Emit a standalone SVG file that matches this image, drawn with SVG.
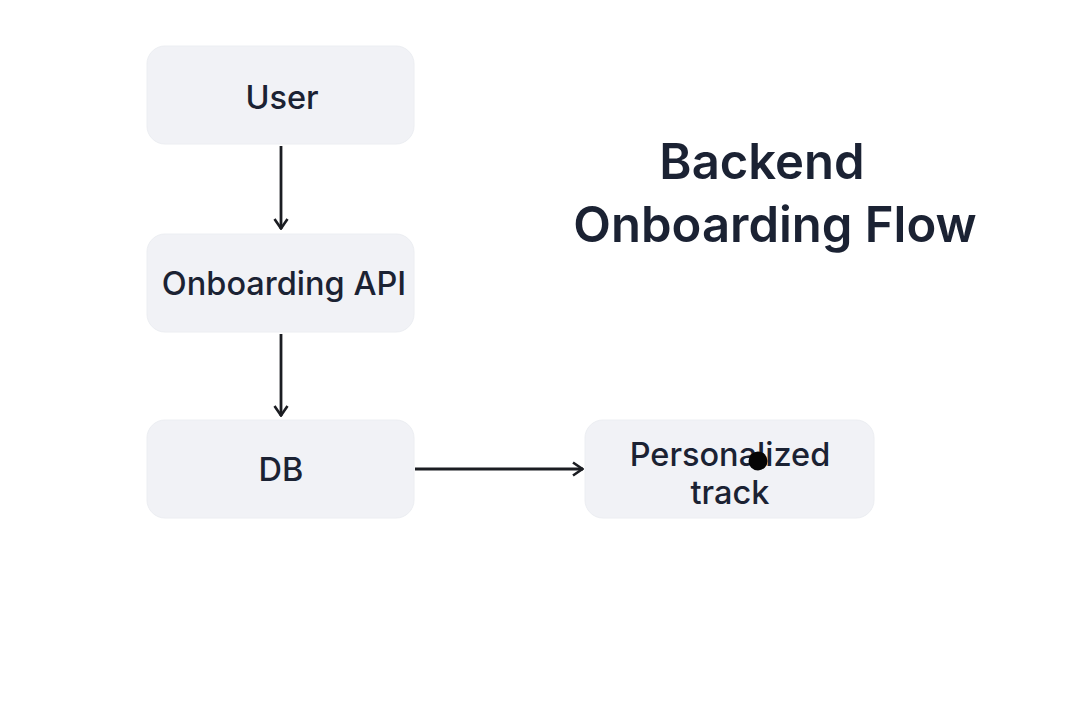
<svg xmlns="http://www.w3.org/2000/svg" width="1079" height="706" viewBox="0 0 1079 706">
<style>
.box{fill:#f1f2f6;stroke:#eceef2;stroke-width:1}
.lbl{font-family:Inter,"Liberation Sans",sans-serif;font-size:32.5px;font-weight:500;fill:#1b2233;text-anchor:middle}
.title{font-family:Inter,"Liberation Sans",sans-serif;font-size:49px;font-weight:600;fill:#1b2233;text-anchor:middle}
.edge{stroke:#1b1d22;stroke-width:2.8;fill:none}
</style>
<defs>
<marker id="arr" viewBox="0 0 14 16" refX="13" refY="8" markerWidth="14" markerHeight="16" markerUnits="userSpaceOnUse" orient="auto">
<path d="M3,1.5 L12.5,8 L3,14.5" fill="none" stroke="#1b1d22" stroke-width="2.6"/>
</marker>
</defs>
<rect width="1079" height="706" fill="#ffffff"/>
<g id="title">
<text class="title" x="762" y="179">Backend</text>
<text class="title" x="775" y="242">Onboarding Flow</text>
</g>
<g id="user"><rect class="box" x="147" y="46" width="267" height="98" rx="18"/><text class="lbl" x="282" y="109">User</text></g>
<g id="api"><rect class="box" x="147" y="234" width="267" height="98" rx="18"/><text class="lbl" x="284" y="295">Onboarding API</text></g>
<g id="db"><rect class="box" x="147" y="420" width="267" height="98" rx="18"/><text class="lbl" x="281" y="481">DB</text></g>
<g id="track"><rect class="box" x="585" y="420" width="289" height="98" rx="18"/><text class="lbl" x="730" y="466">Personalized</text><text class="lbl" x="730" y="504">track</text><circle cx="758" cy="461" r="9.5" fill="#050505"/></g>
<g id="connectors">
<line class="edge" x1="281" y1="146" x2="281" y2="229" marker-end="url(#arr)"/>
<line class="edge" x1="281" y1="334" x2="281" y2="416" marker-end="url(#arr)"/>
<line class="edge" x1="415" y1="469" x2="583" y2="469" marker-end="url(#arr)"/>
</g>
</svg>
